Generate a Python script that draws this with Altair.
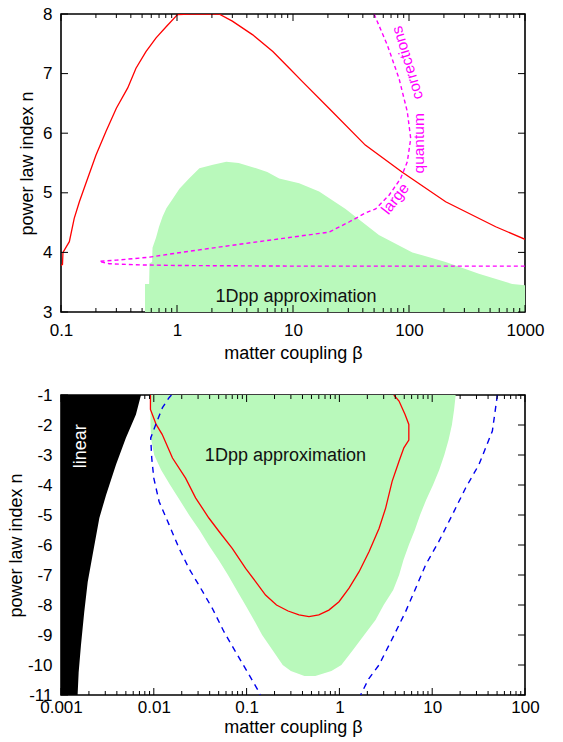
import altair as alt
import pandas as pd

FONT = "Liberation Sans"

# ---------------- top panel data ----------------
top_green_beta = [0.53, 0.575, 0.58, 0.61, 0.615, 0.66, 0.70, 0.75, 0.81, 0.92, 1.05, 1.27, 1.56,
                  2.04, 2.66, 3.4, 4.49, 6.0, 7.6, 11.3, 16.8, 28.4, 55, 107, 207, 400, 776, 1000]
top_green_n = [3.47, 3.47, 3.82, 3.84, 4.08, 4.25, 4.43, 4.60, 4.74, 4.90, 5.07, 5.24, 5.41,
               5.47, 5.52, 5.50, 5.43, 5.35, 5.24, 5.16, 5.02, 4.73, 4.29, 4.00, 3.84, 3.64, 3.47, 3.45]
top_n_floor = 3  # lower edge of the shaded region (bottom of the n axis)

top_red_beta = [0.1, 0.103, 0.104, 0.118, 0.13, 0.144, 0.164, 0.2, 0.244, 0.3, 0.376, 0.443, 0.54,
                0.66, 0.81, 1.01, 1.3, 1.8, 2.3, 3.0, 4.5, 6.7, 9.3, 12, 20.4, 42, 87, 207, 559, 1000]
top_red_n = [3.78, 3.80, 4.00, 4.18, 4.57, 4.85, 5.16, 5.63, 6.03, 6.42, 6.76, 7.09, 7.37,
             7.60, 7.79, 7.99, 8.0, 8.0, 8.0, 7.88, 7.65, 7.37, 7.09, 6.87, 6.42, 5.80, 5.35, 4.85, 4.43, 4.22]

top_mag_beta = [50, 65, 82, 96.7, 103.5, 96.7, 84.7, 67.3, 51.6, 42, 30.4, 20.4, 9.3, 3.0, 1.0, 0.58,
                0.3, 0.214, 0.26, 0.5, 1.0, 10, 100, 1000]
top_mag_n = [8.0, 7.48, 6.92, 6.36, 5.91, 5.52, 5.24, 4.96, 4.73, 4.66, 4.51, 4.34, 4.25, 4.12, 3.99, 3.92,
             3.87, 3.85, 3.81, 3.79, 3.78, 3.77, 3.77, 3.77]

top_label_beta = [10.6]
top_label_n = [3.26]
top_label_text = ["1Dpp approximation"]

mag_words = ["large", "quantum", "corrections"]
mag_beta = [76, 122, 97]
mag_n = [4.90, 5.83, 7.18]
mag_angle = [308, 270, 253]

top_x_major = [0.1, 1, 10, 100, 1000]
top_x_minor = [k * 10.0 ** e for e in range(-1, 3) for k in range(2, 10)]
top_y_major = [3, 4, 5, 6, 7, 8]

# ---------------- bottom panel data ----------------
bot_green_n = [-1, -1.5, -2, -2.5, -3, -3.5, -4, -4.5, -5, -5.5, -6, -6.5, -7, -7.5, -8, -8.5, -9,
               -9.5, -10, -10.2, -10.37]
bot_green_lo = [0.0092, 0.0092, 0.0092, 0.0094, 0.0101, 0.012, 0.015, 0.019, 0.024, 0.031, 0.039,
                0.05, 0.063, 0.078, 0.097, 0.12, 0.147, 0.19, 0.245, 0.30, 0.42]
bot_green_hi = [17.9, 17.2, 16.3, 15.0, 13.5, 11.9, 10.2, 8.6, 7.4, 6.5, 5.6, 4.9, 4.4, 3.8, 3.0,
                2.45, 1.85, 1.4, 1.05, 0.82, 0.55]

bot_lin_n = [-1, -1.65, -2.43, -3.32, -4.33, -5.1, -6.33, -7.23, -8.23, -9.35, -10.24, -11]
bot_lin_hi = [0.00728, 0.00642, 0.005, 0.00392, 0.00306, 0.00259, 0.00219, 0.00194, 0.00178,
              0.00164, 0.00155, 0.00151]
bot_beta_floor = 0.001  # left edge of the "linear" region (start of the beta axis)

bot_red_beta = [0.0092, 0.0092, 0.0106, 0.0123, 0.0159, 0.022, 0.0282, 0.0392, 0.0505, 0.07, 0.0976,
                0.125, 0.16, 0.21, 0.28, 0.367, 0.47, 0.6, 0.77, 0.99, 1.27, 1.63, 2.09, 2.68, 3.15,
                3.7, 4.39, 4.95, 5.6, 5.6, 5.1, 4.39, 3.86]
bot_red_n = [-1.0, -1.48, -1.98, -2.31, -3.1, -3.77, -4.43, -5.1, -5.55, -6.11, -6.78,
             -7.22, -7.67, -8.0, -8.2, -8.33, -8.39, -8.33, -8.17, -7.89, -7.44, -6.89, -6.22, -5.44, -4.77,
             -3.88, -3.21, -2.76, -2.5, -1.98, -1.65, -1.2, -1.0]

bot_blue1_beta = [0.0155, 0.0146, 0.0124, 0.0105, 0.00926, 0.0095, 0.010, 0.0114, 0.0146, 0.0187,
                  0.0239, 0.032, 0.0427, 0.057, 0.076, 0.102, 0.136, 0.14]
bot_blue1_n = [-1.0, -1.09, -1.42, -1.98, -2.43, -3.1, -3.77, -4.55, -5.32, -6.11,
               -6.78, -7.44, -8.11, -8.89, -9.56, -10.23, -10.9, -11.0]

bot_blue2_beta = [50.4, 44.5, 31.9, 22.9, 16.5, 11.8, 8.5, 6.64, 5.17, 3.72, 2.67, 2.08, 1.69]
bot_blue2_n = [-1.0, -2.2, -3.32, -4.1, -4.99, -5.88, -6.66, -7.44, -8.22, -9.12, -10.0, -10.45, -11.0]

bot_label_beta = [0.262]
bot_label_n = [-3.04]
bot_label_text = ["1Dpp approximation"]
lin_beta = [0.00164]
lin_n = [-2.71]
lin_text = ["linear"]

bot_x_major = [0.001, 0.01, 0.1, 1, 10, 100]
bot_x_minor = [k * 10.0 ** e for e in range(-3, 2) for k in range(2, 10)]
bot_y_major = list(range(-11, 0))

X_TITLE = "matter coupling β"
Y_TITLE = "power law index n"

# ---------------- styling ----------------
W = 464
H1 = 298
H2 = 300
GREEN = "#b9f9bb"
RED = "#ff0000"
MAGENTA = "#ff00ff"
BLUE = "#0000ee"
MAJ = 7
MIN = 4
Y_LABEL_EXPR = "datum.value < 0 ? '-' + format(-datum.value, 'd') : format(datum.value, 'd')"


def xaxis(values, lpad, tpad):
    return alt.Axis(values=values, format="~g", ticks=False, domain=False, grid=False,
                    labelFont=FONT, labelFontSize=17, labelColor="black", labelPadding=lpad,
                    labelFlush=False, labelOverlap=False,
                    titleFont=FONT, titleFontSize=18, titleFontWeight="normal", titleColor="black",
                    titlePadding=tpad)


def yaxis(values, lpad, tpad):
    return alt.Axis(values=values, labelExpr=Y_LABEL_EXPR, ticks=False, domain=False, grid=False,
                    labelFont=FONT, labelFontSize=17, labelColor="black", labelPadding=lpad,
                    labelFlush=False, labelOverlap=False,
                    titleFont=FONT, titleFontSize=18, titleFontWeight="normal", titleColor="black",
                    titlePadding=tpad)


class Panel:
    def __init__(self, xdom, ydom, xvals, yvals, xpad, xtpad, ypad, ytpad):
        self.xs = alt.Scale(type="log", domain=xdom, nice=False)
        self.ys = alt.Scale(domain=ydom, nice=False, zero=False)
        self.xa = xaxis(xvals, xpad, xtpad)
        self.ya = yaxis(yvals, ypad, ytpad)

    def X(self, f):
        return alt.X(f, scale=self.xs, axis=self.xa, title=X_TITLE)

    def Y(self, f):
        return alt.Y(f, scale=self.ys, axis=self.ya, title=Y_TITLE)


def tick_layers(P, xmaj, xmin, ymaj, h, w):
    out = []
    for vals, ln in ((xmaj, MAJ), (xmin, MIN)):
        d = pd.DataFrame({"v": vals})
        out.append(alt.Chart(d).mark_rule(color="black", strokeWidth=1).encode(
            x=P.X("v:Q"), y=alt.value(h), y2=alt.value(h - ln)))
        out.append(alt.Chart(d).mark_rule(color="black", strokeWidth=1).encode(
            x=P.X("v:Q"), y=alt.value(0), y2=alt.value(ln)))
    d = pd.DataFrame({"v": ymaj})
    out.append(alt.Chart(d).mark_rule(color="black", strokeWidth=1).encode(
        y=P.Y("v:Q"), x=alt.value(0), x2=alt.value(MAJ)))
    out.append(alt.Chart(d).mark_rule(color="black", strokeWidth=1).encode(
        y=P.Y("v:Q"), x=alt.value(w), x2=alt.value(w - MAJ)))
    return out


# ---------------- top panel ----------------
P1 = Panel([0.1, 1000], [3, 8], top_x_major, top_y_major, 10, 6, 9, 6)

tg_df = pd.DataFrame({"beta": top_green_beta, "n": top_green_n})
tg_df["base"] = top_n_floor
t_green = alt.Chart(tg_df).mark_area(color=GREEN, opacity=1, clip=True).encode(
    x=P1.X("beta:Q"), y=P1.Y("n:Q"), y2="base:Q")

t_red = alt.Chart(pd.DataFrame({"beta": top_red_beta, "n": top_red_n,
                                "i": list(range(len(top_red_beta)))})).mark_line(
    color=RED, strokeWidth=1.3, clip=True).encode(
    x=P1.X("beta:Q"), y=P1.Y("n:Q"), order=alt.Order("i:Q"))

t_mag = alt.Chart(pd.DataFrame({"beta": top_mag_beta, "n": top_mag_n,
                                "i": list(range(len(top_mag_beta)))})).mark_line(
    color=MAGENTA, strokeWidth=1.4, strokeDash=[4, 3], clip=True).encode(
    x=P1.X("beta:Q"), y=P1.Y("n:Q"), order=alt.Order("i:Q"))

t_text = alt.Chart(pd.DataFrame({"beta": top_label_beta, "n": top_label_n, "t": top_label_text})).mark_text(
    font=FONT, fontSize=18, color="#111111").encode(
    x=P1.X("beta:Q"), y=P1.Y("n:Q"), text="t:N")

mag_texts = []
for w_, b_, n_, a_ in zip(mag_words, mag_beta, mag_n, mag_angle):
    mag_texts.append(alt.Chart(pd.DataFrame({"beta": [b_], "n": [n_], "t": [w_]})).mark_text(
        font=FONT, fontSize=15.5, color=MAGENTA, angle=a_).encode(
        x=P1.X("beta:Q"), y=P1.Y("n:Q"), text="t:N"))

top = alt.layer(t_green, t_red, t_mag, t_text, *mag_texts,
                *tick_layers(P1, top_x_major, top_x_minor, top_y_major, H1, W)).properties(
    width=W, height=H1)

# ---------------- bottom panel ----------------
P2 = Panel([0.001, 100], [-11, -1], bot_x_major, bot_y_major, 4, 3, 9, 2)

b_green = alt.Chart(pd.DataFrame({"n": bot_green_n, "lo": bot_green_lo, "hi": bot_green_hi})).mark_area(
    color=GREEN, opacity=1, orient="horizontal", clip=True).encode(
    y=P2.Y("n:Q"), x=P2.X("lo:Q"), x2="hi:Q")

bl_df = pd.DataFrame({"n": bot_lin_n, "hi": bot_lin_hi})
bl_df["lo"] = bot_beta_floor
b_lin = alt.Chart(bl_df).mark_area(
    color="black", opacity=1, orient="horizontal", clip=True).encode(
    y=P2.Y("n:Q"), x=P2.X("lo:Q"), x2="hi:Q")

b_red = alt.Chart(pd.DataFrame({"beta": bot_red_beta, "n": bot_red_n,
                                "i": list(range(len(bot_red_beta)))})).mark_line(
    color=RED, strokeWidth=1.3, clip=True).encode(
    x=P2.X("beta:Q"), y=P2.Y("n:Q"), order=alt.Order("i:Q"))

blue_df = pd.concat([
    pd.DataFrame({"beta": bot_blue1_beta, "n": bot_blue1_n, "c": "a",
                  "i": list(range(len(bot_blue1_beta)))}),
    pd.DataFrame({"beta": bot_blue2_beta, "n": bot_blue2_n, "c": "b",
                  "i": list(range(len(bot_blue2_beta)))}),
])
b_blue = alt.Chart(blue_df).mark_line(
    color=BLUE, strokeWidth=1.4, strokeDash=[6, 5], clip=True).encode(
    x=P2.X("beta:Q"), y=P2.Y("n:Q"), detail="c:N", order=alt.Order("i:Q"))

b_text = alt.Chart(pd.DataFrame({"beta": bot_label_beta, "n": bot_label_n, "t": bot_label_text})).mark_text(
    font=FONT, fontSize=18, color="#111111").encode(
    x=P2.X("beta:Q"), y=P2.Y("n:Q"), text="t:N")

b_lintext = alt.Chart(pd.DataFrame({"beta": lin_beta, "n": lin_n, "t": lin_text})).mark_text(
    font=FONT, fontSize=18, color="white", angle=270).encode(
    x=P2.X("beta:Q"), y=P2.Y("n:Q"), text="t:N")

bottom = alt.layer(b_green, b_lin, b_red, b_blue, b_text, b_lintext,
                   *tick_layers(P2, bot_x_major, bot_x_minor, bot_y_major, H2, W)).properties(
    width=W, height=H2)

chart = alt.vconcat(top, bottom, spacing=22).properties(
    padding={"left": 6, "top": 4, "right": 5, "bottom": 3},
    background="white",
).configure_view(stroke="black", strokeWidth=1.6)

chart.save("out.html", embed_options={"renderer": "svg", "actions": False})
